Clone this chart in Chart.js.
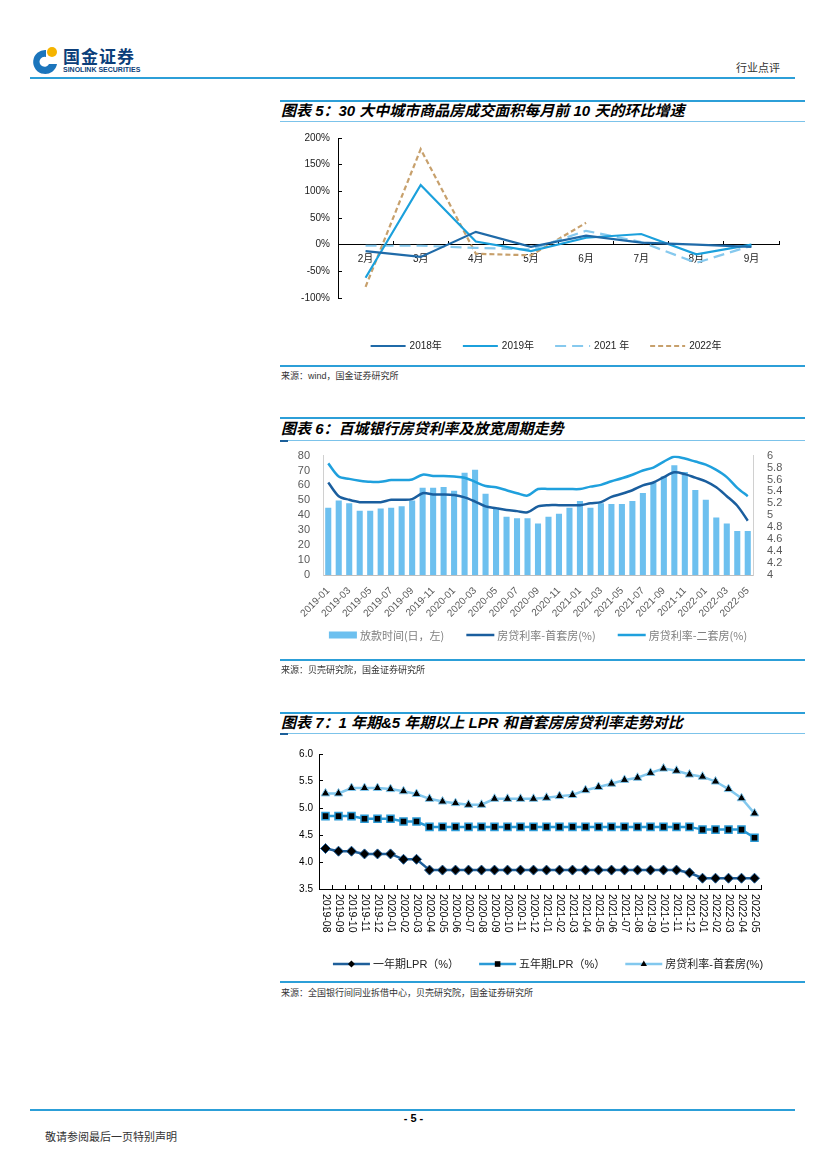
<!DOCTYPE html>
<html>
<head>
<meta charset="utf-8">
<script src="https://cdn.jsdelivr.net/npm/chart.js@4.4.1/dist/chart.umd.min.js"></script>
<style>
body{margin:0;width:827px;height:1170px;position:relative;background:#fff;overflow:hidden;font-family:"Liberation Sans","Noto Sans CJK SC",sans-serif}
.ln{position:absolute;background:#2c9fd8}
.tab{position:absolute;background:#1b5f99}
.title{position:absolute;left:281px;font-weight:700;font-style:italic;font-size:15px;line-height:21px;color:#000;white-space:nowrap}
.src{position:absolute;left:281px;font-size:9px;line-height:12px;color:#333;white-space:nowrap}
canvas{position:absolute}
</style>
</head>
<body>
<!-- header -->
<svg style="position:absolute;left:30px;top:44px" width="30" height="34" viewBox="0 0 30 34">
  <path d="M16 6 A12 12 0 1 0 27 20 L19 20 A5 5 0 1 1 16 13 Z" fill="#1b75bc"/>
  <circle cx="22" cy="8" r="5" fill="#f5b400"/>
</svg>
<div style="position:absolute;left:63px;top:46px;font-size:17px;font-weight:700;color:#0c3f7a;font-family:'Noto Sans CJK SC';letter-spacing:1px;line-height:20px">国金证券</div>
<div style="position:absolute;left:63px;top:66px;font-size:7px;font-weight:700;color:#0c3f7a;line-height:8px">SINOLINK SECURITIES</div>
<div style="position:absolute;left:736px;top:59px;font-size:11px;color:#333;font-family:'Noto Sans CJK SC'">行业点评</div>
<div class="ln" style="left:30px;top:77px;width:765px;height:2px"></div>

<!-- chart 5 -->
<div class="ln" style="left:280px;top:100px;width:525px;height:2px"></div>
<div class="title" style="top:100px">图表 5：30 大中城市商品房成交面积每月前 10 天的环比增速</div>
<div class="ln" style="left:280px;top:121px;width:525px;height:1px;background:#7cc3ea"></div>
<canvas id="c5" width="525" height="240" style="left:280px;top:120px"></canvas>
<div class="ln" style="left:280px;top:365px;width:525px;height:2px"></div>
<div class="src" style="top:370px">来源：wind，国金证券研究所</div>

<!-- chart 6 -->
<div class="ln" style="left:280px;top:417px;width:525px;height:2px"></div>
<div class="title" style="top:418px">图表 6：百城银行房贷利率及放宽周期走势</div>
<div class="ln" style="left:280px;top:440px;width:525px;height:1px;background:#7cc3ea"></div>
<div class="tab" style="left:280px;top:440px;width:8px;height:2px"></div>
<canvas id="c6" width="525" height="217" style="left:280px;top:443px"></canvas>
<div class="ln" style="left:280px;top:659px;width:525px;height:2px"></div>
<div class="src" style="top:664px">来源：贝壳研究院，国金证券研究所</div>

<!-- chart 7 -->
<div class="ln" style="left:280px;top:712px;width:525px;height:2px"></div>
<div class="title" style="top:712px">图表 7：1 年期&amp;5 年期以上 LPR 和首套房房贷利率走势对比</div>
<div class="ln" style="left:280px;top:733px;width:525px;height:1px;background:#7cc3ea"></div>
<div class="tab" style="left:280px;top:733px;width:8px;height:2px"></div>
<canvas id="c7" width="525" height="240" style="left:280px;top:738px"></canvas>
<div class="ln" style="left:280px;top:981px;width:525px;height:2px"></div>
<div class="src" style="top:987px">来源：全国银行间同业拆借中心，贝壳研究院，国金证券研究所</div>

<!-- footer -->
<div class="ln" style="left:30px;top:1109px;width:765px;height:2px"></div>
<div style="position:absolute;left:0;width:827px;top:1112px;text-align:center;font-size:11px;font-weight:700;color:#000">- 5 -</div>
<div style="position:absolute;left:45px;top:1128px;font-size:11px;color:#333;font-family:'Noto Sans CJK SC'">敬请参阅最后一页特别声明</div>

<script>
Chart.defaults.font.family = '"Liberation Sans", Arial, "Noto Sans CJK SC", sans-serif'
Chart.defaults.animation = false

// chart 5 data
let months5 = ["2月","3月","4月","5月","6月","7月","8月","9月"]
let y2018 = [-12, -23, 24, -4, 17, 4, 0, -4]
let y2019 = [-62, 112, 6, -12, 13, 20, -18, 0]
let y2021 = [-2, -2, -6, -9, 26, 5, -34, -2]
let y2022 = [-79, 179, -17, -20, 41, null, null, null]

// chart 6 data
let months6 = ["2019-01","2019-02","2019-03","2019-04","2019-05","2019-06","2019-07","2019-08","2019-09","2019-10","2019-11","2019-12",
  "2020-01","2020-02","2020-03","2020-04","2020-05","2020-06","2020-07","2020-08","2020-09","2020-10","2020-11","2020-12",
  "2021-01","2021-02","2021-03","2021-04","2021-05","2021-06","2021-07","2021-08","2021-09","2021-10","2021-11","2021-12",
  "2022-01","2022-02","2022-03","2022-04","2022-05"]
let loanDays = [45,50,48,43,43,44.5,45,46,50,58.5,58.5,59,56.5,68.5,70.5,54.5,45,39,38,38,34.5,39,41,45,
  49.5,45,48,47.5,47.5,49.5,55,62,66,73.5,69,57,50.5,38.5,34.5,29.5,29.5]
let firstHome6 = [5.55,5.32,5.26,5.22,5.22,5.22,5.26,5.26,5.27,5.37,5.35,5.35,5.34,5.30,5.23,5.15,5.12,5.09,5.07,5.05,5.15,5.17,5.17,5.17,
  5.17,5.20,5.22,5.31,5.36,5.42,5.50,5.55,5.64,5.72,5.69,5.63,5.57,5.47,5.32,5.16,4.91]
let secondHome6 = [5.87,5.65,5.61,5.58,5.56,5.56,5.59,5.59,5.60,5.68,5.66,5.66,5.65,5.63,5.56,5.49,5.47,5.42,5.37,5.33,5.44,5.44,5.44,5.44,
  5.44,5.48,5.51,5.57,5.62,5.68,5.75,5.80,5.90,5.98,5.95,5.90,5.85,5.76,5.64,5.46,5.32]

// chart 7 data
let months7 = ["2019-08","2019-09","2019-10","2019-11","2019-12","2020-01","2020-02","2020-03","2020-04","2020-05","2020-06","2020-07",
  "2020-08","2020-09","2020-10","2020-11","2020-12","2021-01","2021-02","2021-03","2021-04","2021-05","2021-06","2021-07",
  "2021-08","2021-09","2021-10","2021-11","2021-12","2022-01","2022-02","2022-03","2022-04","2022-05"]
let lpr1y = [4.25,4.20,4.20,4.15,4.15,4.15,4.05,4.05,3.85,3.85,3.85,3.85,3.85,3.85,3.85,3.85,3.85,3.85,3.85,3.85,
  3.85,3.85,3.85,3.85,3.85,3.85,3.85,3.85,3.80,3.70,3.70,3.70,3.70,3.70]
let lpr5y = [4.85,4.85,4.85,4.80,4.80,4.80,4.75,4.75,4.65,4.65,4.65,4.65,4.65,4.65,4.65,4.65,4.65,4.65,4.65,4.65,
  4.65,4.65,4.65,4.65,4.65,4.65,4.65,4.65,4.65,4.60,4.60,4.60,4.60,4.45]
let firstHome7 = [5.27,5.27,5.37,5.37,5.37,5.35,5.31,5.26,5.17,5.12,5.09,5.06,5.06,5.17,5.17,5.17,5.17,5.19,5.22,5.24,
  5.33,5.39,5.45,5.52,5.56,5.65,5.73,5.69,5.62,5.58,5.49,5.35,5.18,4.90]

function drawMarker(ctx, style, x, y, r, fill){
    ctx.save()
    ctx.fillStyle = fill
    ctx.beginPath()
    if(style === "rectRot"){
        ctx.moveTo(x, y-r); ctx.lineTo(x+r, y); ctx.lineTo(x, y+r); ctx.lineTo(x-r, y)
    } else if(style === "rect"){
        ctx.rect(x-r*0.8, y-r*0.8, r*1.6, r*1.6)
    } else if(style === "triangle"){
        ctx.moveTo(x, y-r); ctx.lineTo(x+r*0.9, y+r*0.6); ctx.lineTo(x-r*0.9, y+r*0.6)
    }
    ctx.closePath()
    ctx.fill()
    ctx.restore()
}

// row legend drawn centred under the plot
let rowLegend = {
    id: "rowLegend",
    afterDraw(chart, args, o){
        let ctx = chart.ctx
        ctx.save()
        ctx.font = o.font
        ctx.textBaseline = "middle"
        ctx.textAlign = "left"
        let dsets = chart.data.datasets
        let widths = dsets.map(d => o.sample + o.gap + ctx.measureText(d.label).width)
        let total = widths.reduce((a,b)=>a+b, 0) + o.spacing*(dsets.length-1)
        let x = o.cx - total/2
        dsets.forEach((d, i) => {
            if(d.type === "bar"){
                ctx.fillStyle = d.backgroundColor
                ctx.fillRect(x, o.y-3.5, o.sample, 7)
            } else {
                ctx.strokeStyle = d.borderColor
                ctx.lineWidth = d.borderWidth
                ctx.setLineDash(d.borderDash || [])
                ctx.beginPath()
                ctx.moveTo(x, o.y)
                ctx.lineTo(x+o.sample, o.y)
                ctx.stroke()
                ctx.setLineDash([])
                if(o.markers) drawMarker(ctx, d.pointStyle, x+o.sample/2, o.y, o.markerSize, d.pointBackgroundColor)
            }
            ctx.fillStyle = o.color
            ctx.fillText(d.label, x+o.sample+o.gap, o.y+0.5)
            x += widths[i] + o.spacing
        })
        ctx.restore()
    }
}

// vertical (clockwise) month labels for chart 7
let vertLabels = {
    id: "vertLabels",
    afterDraw(chart){
        let sc = chart.scales.x
        let ctx = chart.ctx
        ctx.save()
        ctx.font = '10.5px "Liberation Sans", Arial'
        ctx.fillStyle = "#000"
        ctx.textBaseline = "middle"
        ctx.textAlign = "left"
        chart.data.labels.forEach((lab, i) => {
            let x = sc.getPixelForTick(i)
            ctx.save()
            ctx.translate(x, sc.top + 5)
            ctx.rotate(Math.PI/2)
            ctx.fillText(lab, 0, 0)
            ctx.restore()
        })
        ctx.restore()
    }
}

let chart5 = new Chart(document.getElementById("c5"), {
    type: "line",
    data: {
        labels: months5,
        datasets: [
            {label:"2018年", data:y2018, borderColor:"#1f6aa8", borderWidth:2.2},
            {label:"2019年", data:y2019, borderColor:"#1ba0dc", borderWidth:2.2},
            {label:"2021 年", data:y2021, borderColor:"#86c9ee", borderWidth:2.2, borderDash:[11,6]},
            {label:"2022年", data:y2022, borderColor:"#c7a06c", borderWidth:2.2, borderDash:[5,3]}
        ]
    },
    options: {
        responsive:false,
        elements:{point:{radius:0}, line:{tension:0}},
        layout:{padding:{left:0, right:26, top:1, bottom:62}},
        scales:{
            x:{
                position:{y:0},
                offset:true,
                grid:{drawOnChartArea:false, offset:true, tickLength:-4, color:"#000"},
                border:{color:"#000", width:1},
                ticks:{color:"#222", font:{size:10}, padding:13, maxRotation:0},
                afterFit(s){ s.height = 0 }
            },
            y:{
                min:-100, max:200,
                ticks:{stepSize:50, autoSkip:false, callback:v => v + "%", color:"#222", font:{size:10}, padding:12},
                grid:{drawOnChartArea:false, tickLength:-4, color:"#000"},
                border:{color:"#000", width:1},
                afterFit(s){ s.width = 58 }
            }
        },
        plugins:{
            legend:{display:false},
            tooltip:{enabled:false},
            rowLegend:{cx:266, y:226, sample:35, gap:4, spacing:21, font:'10px "Liberation Sans", "Noto Sans CJK SC"', color:"#222"}
        }
    },
    plugins:[rowLegend]
})

let chart6 = new Chart(document.getElementById("c6"), {
    type: "bar",
    data: {
        labels: months6,
        datasets: [
            {type:"bar", label:"放款时间(日，左)", data:loanDays, backgroundColor:"#6dc0ef", yAxisID:"y", order:2,
             categoryPercentage:1, barPercentage:0.58},
            {type:"line", label:"房贷利率-首套房(%)", data:firstHome6, borderColor:"#1a5e9e", borderWidth:2.5, yAxisID:"y1", order:0,
             pointRadius:0, tension:0.3},
            {type:"line", label:"房贷利率-二套房(%)", data:secondHome6, borderColor:"#1fa0dd", borderWidth:2.5, yAxisID:"y1", order:1,
             pointRadius:0, tension:0.3}
        ]
    },
    options: {
        responsive:false,
        layout:{padding:{left:0, right:0, top:6, bottom:0}},
        scales:{
            x:{
                grid:{display:false},
                border:{color:"#bfbfbf"},
                ticks:{autoSkip:false, minRotation:45, maxRotation:45, padding:2, color:"#595959", font:{size:10},
                       callback:function(v, i){ return i % 2 === 0 ? this.getLabelForValue(v) : "" }},
                afterFit(s){ s.height = 85 }
            },
            y:{
                position:"left", min:0, max:80,
                ticks:{stepSize:10, autoSkip:false, color:"#595959", font:{size:11}, padding:5},
                grid:{display:false},
                border:{color:"#d0d0d0"},
                afterFit(s){ s.width = 43 }
            },
            y1:{
                position:"right", min:4, max:6,
                ticks:{stepSize:0.2, autoSkip:false, color:"#595959", font:{size:11}, padding:6,
                       callback:v => String(Math.round(v*10)/10)},
                grid:{display:false},
                border:{color:"#d0d0d0"},
                afterFit(s){ s.width = 52 }
            }
        },
        plugins:{
            legend:{display:false},
            tooltip:{enabled:false},
            rowLegend:{cx:258, y:192, sample:28, gap:3, spacing:22, font:'11px "Noto Sans CJK SC"', color:"#7f7f7f"}
        }
    },
    plugins:[rowLegend]
})

let chart7 = new Chart(document.getElementById("c7"), {
    type: "line",
    data: {
        labels: months7,
        datasets: [
            {label:"一年期LPR（%）", data:lpr1y, borderColor:"#1f5f9a", borderWidth:2.5, pointStyle:"rectRot",
             pointRadius:5, pointBackgroundColor:"#000", pointBorderColor:"#1f5f9a", pointBorderWidth:1},
            {label:"五年期LPR（%）", data:lpr5y, borderColor:"#2a9ad6", borderWidth:2.5, pointStyle:"rect",
             pointRadius:5, pointBackgroundColor:"#000", pointBorderColor:"#2a9ad6", pointBorderWidth:1.5},
            {label:"房贷利率-首套房(%)", data:firstHome7, borderColor:"#82c8ee", borderWidth:2.5, pointStyle:"triangle",
             pointRadius:5, pointBackgroundColor:"#000", pointBorderColor:"#82c8ee", pointBorderWidth:1}
        ]
    },
    options: {
        responsive:false,
        elements:{line:{tension:0}},
        layout:{padding:{left:0, right:44, top:8, bottom:0}},
        scales:{
            x:{
                offset:true,
                grid:{drawOnChartArea:false, offset:true, tickLength:-4, color:"#000"},
                border:{color:"#000"},
                ticks:{display:false},
                afterFit(s){ s.height = 89 }
            },
            y:{
                min:3.5, max:6.0,
                ticks:{stepSize:0.5, autoSkip:false, callback:v => v.toFixed(1), color:"#000", font:{size:10}, padding:10},
                grid:{drawOnChartArea:false, tickLength:-4, color:"#000"},
                border:{color:"#000"},
                afterFit(s){ s.width = 39 }
            }
        },
        plugins:{
            legend:{display:false},
            tooltip:{enabled:false},
            rowLegend:{cx:268, y:226, sample:37, gap:3, spacing:20, markers:true, markerSize:3.5,
                       font:'11px "Liberation Sans", "Noto Sans CJK SC"', color:"#222"}
        }
    },
    plugins:[rowLegend, vertLabels]
})
</script>
</body>
</html>
